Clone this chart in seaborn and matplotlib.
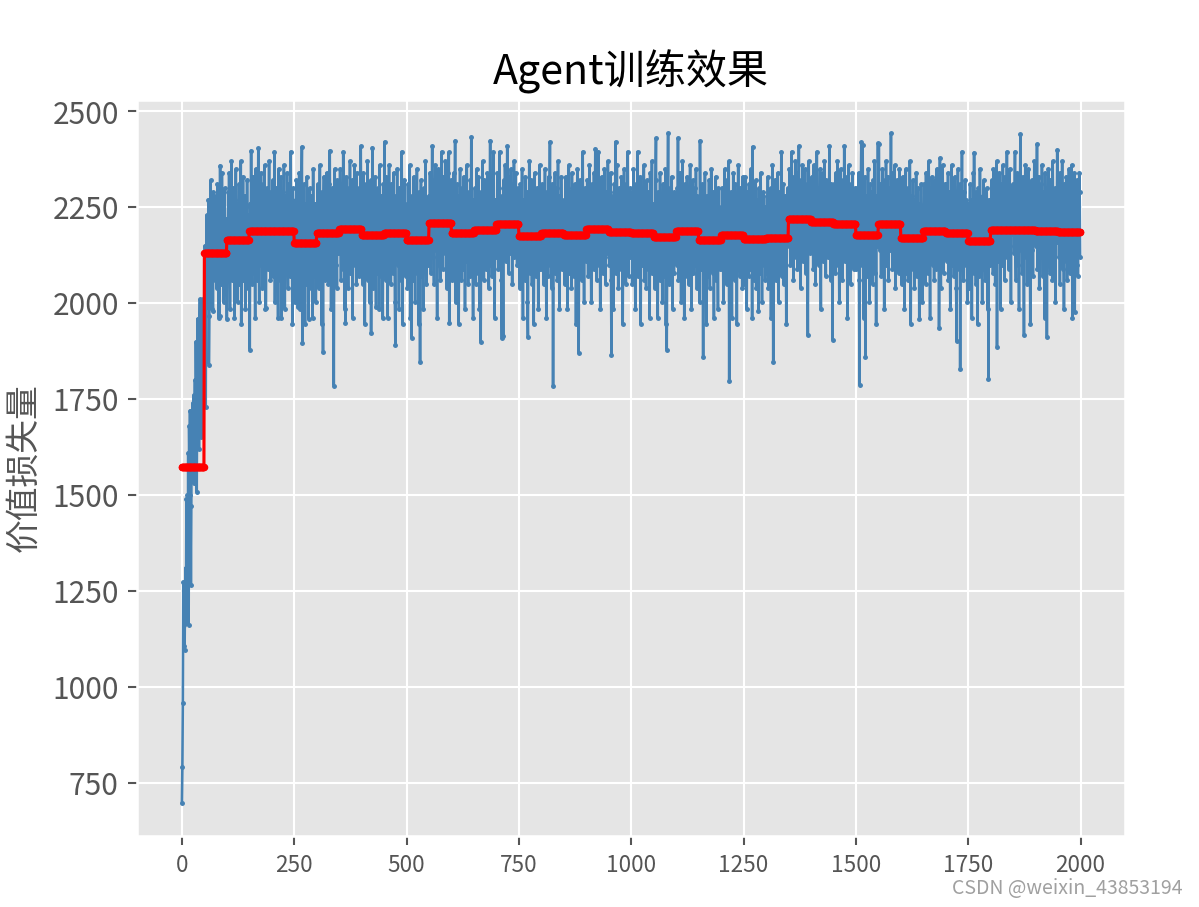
import numpy as np
import pandas as pd
import matplotlib
matplotlib.use("Agg")
import matplotlib.pyplot as plt
import seaborn as sns

block_size = 50

# mean value loss of every 50 episodes (red step line)
block_mean = [1574, 2130, 2166, 2188, 2188, 2156, 2183, 2193, 2178, 2182,
              2164, 2209, 2183, 2190, 2206, 2175, 2184, 2177, 2193, 2186,
              2182, 2173, 2188, 2164, 2178, 2167, 2170, 2219, 2212, 2206,
              2178, 2207, 2170, 2188, 2184, 2163, 2192, 2190, 2188, 2185]

# episodes 0-49
warmup_loss = [
    698, 790, 958, 1272, 1105, 1160, 1095, 1250, 1310, 1165,
    1490, 1380, 1500, 1270, 1610, 1160, 1680, 1560, 1720, 1500,
    1264, 1470, 1720, 1590, 1740, 1650, 1760, 1530, 1690, 1800,
    1620, 1900, 1740, 1508, 1830, 1960, 1700, 1890, 1620, 1940,
    2010, 1760, 1880, 1650, 1980, 1920, 2010, 1800, 1990, 1960,
]

# episodes 50-1999
train_loss = [
    1962, 2150, 2060, 1730, 2110, 2230, 1990, 2180, 2050, 2270, 1840, 1967, 2210, 2090, 2320, 2140, 1985, 2250, 2170, 1980, 2290, 2100, 2210, 2060, 2190,
    2280, 2130, 2040, 2230, 2310, 2080, 2190, 1962, 2260, 1966, 2359, 2120, 2200, 2050, 2340, 2160, 2090, 2250, 2002, 2180, 2300, 2110, 2220, 2070, 2150,
    1958, 2210, 2130, 2290, 2070, 2340, 2180, 1985, 2250, 2110, 2370, 2160, 2060, 2230, 2300, 2090, 2190, 1962, 2270, 2140, 2350, 2080, 2220, 2170, 2002,
    2260, 2120, 2310, 2050, 2200, 2150, 2370, 1945, 2240, 2180, 2100, 2330, 2060, 2210, 2130, 2280, 1985, 2190, 2250, 2090, 2320, 2160, 2040, 2230, 2140,
    2200, 1879, 2260, 2110, 2398, 2170, 2050, 2290, 2140, 2330, 2080, 2220, 2180, 1962, 2350, 2240, 2120, 2280, 2060, 2190, 2404, 2150, 2002, 2270, 2210,
    2100, 2340, 2170, 2250, 2040, 2310, 2130, 2230, 2080, 2360, 2190, 1985, 1987, 2260, 2150, 2300, 2090, 2220, 2180, 2370, 2110, 2240, 2060, 2290, 2160,
    2250, 2120, 2320, 2070, 2210, 2170, 2395, 2002, 2260, 2140, 2300, 2090, 2230, 2180, 1962, 2350, 2110, 2270, 2200, 2060, 2330, 1961, 2240, 2150, 2290,
    2080, 2210, 2360, 2130, 1985, 2280, 2190, 2250, 2100, 2340, 2160, 2040, 2310, 2220, 2120, 2270, 2070, 2395, 2180, 2230, 2140, 1945, 2300, 2200, 2160,
    2090, 2200, 2002, 2270, 2140, 2320, 2060, 2180, 1990, 2250, 2110, 2340, 2150, 1985, 2230, 2080, 2290, 2408, 1897, 2170, 2060, 2310, 2120, 2210, 1945,
    2260, 2140, 2050, 2330, 2190, 2080, 2240, 1960, 2160, 2300, 2100, 2220, 2040, 2280, 2130, 2190, 1962, 2350, 2110, 2230, 2070, 2170, 2260, 2002, 2150,
    2220, 2100, 2310, 2160, 2040, 2270, 2190, 2360, 2080, 2240, 2130, 1945, 2290, 2170, 1874, 2250, 2330, 2110, 2200, 2060, 2280, 2150, 2340, 2090, 2230,
    2180, 2050, 2310, 2120, 2398, 2160, 2260, 1985, 2210, 2300, 2140, 2070, 2250, 1785, 2190, 2350, 2230, 2100, 2280, 2170, 2040, 2320, 2200, 2130, 2260,
    2270, 2130, 2350, 2200, 2060, 2310, 2170, 2240, 2090, 2395, 2150, 2280, 1985, 2230, 1948, 2190, 2330, 2110, 2260, 2180, 2040, 2300, 2210, 2140, 2370,
    2080, 2250, 2160, 2320, 2200, 1962, 2290, 2140, 2230, 2360, 2100, 2270, 2190, 2050, 2340, 2170, 2250, 2120, 2300, 2210, 2070, 2280, 2160, 2410, 2230,
    2150, 2280, 2050, 2210, 2340, 2120, 2260, 1945, 2190, 2310, 2090, 2230, 2170, 2370, 2060, 2250, 2140, 2290, 2002, 2200, 2320, 1923, 2180, 2110, 2406,
    2160, 2040, 2270, 2220, 2100, 2330, 2150, 1990, 2250, 2190, 2080, 2300, 2130, 2240, 1985, 2360, 2170, 2210, 2070, 2280, 2140, 2230, 1962, 2310, 2190,
    2200, 2421, 2130, 2270, 2060, 2330, 2180, 2240, 1962, 2290, 2150, 2360, 2090, 2220, 2170, 2050, 2310, 2120, 2260, 2190, 2080, 2340, 2160, 2230, 2002,
    1892, 2280, 2140, 2210, 2350, 2100, 2250, 2180, 1985, 2300, 2130, 2270, 2060, 2220, 2395, 2150, 1945, 2240, 2190, 2110, 2320, 2170, 2260, 2070, 2210,
    2120, 2250, 2040, 2310, 2170, 2090, 2220, 2360, 1962, 2190, 2140, 1910, 2280, 2100, 2230, 2060, 2330, 2150, 2200, 2002, 2270, 2110, 2180, 2350, 2080,
    2240, 2130, 1945, 2290, 2160, 1848, 2210, 2320, 2070, 2250, 2140, 2190, 1985, 2300, 2120, 2230, 2090, 2370, 2170, 2050, 2260, 2150, 2210, 2100, 2280,
    2260, 2150, 2340, 2200, 2080, 2300, 2230, 2410, 2120, 2270, 2180, 2050, 2320, 2210, 2360, 2140, 2250, 2190, 1962, 2290, 2230, 2350, 2100, 2280, 2170,
    2060, 2310, 2220, 2395, 2160, 2240, 2090, 2330, 2200, 2270, 2130, 2370, 2190, 2250, 2040, 2300, 2210, 2150, 2340, 2394, 1948, 2260, 2180, 2320, 2230,
    2170, 2290, 2060, 2230, 2140, 2340, 2100, 2200, 2424, 2002, 2260, 2180, 2310, 2080, 2220, 2150, 1945, 2280, 2190, 2350, 2120, 2240, 2060, 2300, 2170,
    2210, 2090, 2330, 2140, 2250, 1985, 2280, 2190, 2110, 2360, 2160, 2230, 2050, 2290, 2130, 2200, 2070, 2320, 2180, 2434, 2100, 2250, 2140, 1962, 2270,
    2230, 2120, 2300, 2180, 2050, 2270, 2350, 2140, 2210, 2080, 2330, 2190, 1985, 2260, 2160, 1900, 2290, 2230, 2110, 2370, 2200, 2150, 2060, 2320, 2240,
    2180, 2090, 2280, 2210, 2130, 2340, 2190, 2260, 2040, 2310, 2170, 2424, 2100, 2250, 2220, 2070, 2300, 2160, 2395, 2140, 2230, 1962, 2270, 2190, 2120,
    2260, 2170, 2340, 2210, 2090, 2300, 2250, 2395, 2140, 2230, 2180, 2060, 1910, 2280, 2200, 1915, 2320, 2240, 2150, 2360, 2270, 2110, 2290, 2220, 2410,
    2160, 2250, 2080, 2330, 2210, 2270, 2130, 2350, 2190, 2240, 2050, 2310, 2230, 2170, 2370, 2120, 2280, 2200, 2340, 2150, 2260, 2100, 2300, 2220, 2190,
    2130, 2260, 2040, 2310, 2180, 2090, 2230, 2350, 2150, 1962, 2270, 2120, 2200, 2060, 2330, 2170, 2240, 2100, 2290, 2002, 1912, 2210, 2140, 2370, 2190,
    2080, 2250, 2160, 2320, 2050, 2220, 2130, 2280, 1945, 2190, 2340, 2110, 2240, 2170, 2070, 2300, 2150, 2210, 1985, 2260, 2180, 2360, 2090, 2230, 2140,
    2200, 2090, 2310, 2160, 2240, 2050, 2280, 2180, 2350, 2120, 2230, 1962, 2290, 2140, 2200, 2070, 2330, 2190, 2250, 2421, 2100, 2260, 2170, 2040, 2310,
    2220, 1785, 2150, 2280, 2190, 2340, 2080, 2240, 2130, 2300, 2060, 2210, 2370, 2160, 2250, 1985, 2280, 2180, 2120, 2330, 2200, 2090, 2260, 2150, 2230,
    2140, 2270, 2050, 2210, 2330, 2100, 2250, 2180, 1985, 2300, 2160, 2360, 2080, 2230, 2120, 2290, 2190, 2040, 2340, 2170, 2260, 2110, 2200, 2070, 2310,
    2150, 2240, 1945, 2280, 2190, 2350, 2130, 2220, 1870, 2270, 2160, 2090, 2320, 2200, 2250, 2060, 2180, 2395, 2140, 2230, 2002, 2300, 2170, 2210, 2110,
    2250, 2130, 2320, 2200, 2070, 2290, 2180, 2360, 2110, 2240, 2160, 2002, 2310, 2220, 2140, 2270, 2090, 2340, 2190, 2250, 2403, 2120, 2200, 2060, 2300,
    2230, 2170, 2395, 2100, 2260, 2150, 1985, 2280, 2210, 2330, 2140, 2240, 2080, 2310, 2190, 2350, 2120, 2220, 2050, 2290, 2170, 2260, 2130, 2370, 2200,
    2210, 2100, 2290, 2170, 2340, 2060, 1864, 2230, 2150, 2280, 1985, 2190, 2310, 2130, 2250, 2421, 2080, 2200, 2360, 2160, 2240, 2040, 2300, 2180, 2120,
    2270, 2210, 2090, 2330, 2150, 2260, 1945, 2220, 2190, 2350, 2110, 2280, 2170, 2050, 2310, 2230, 2140, 2395, 2200, 2070, 2250, 2160, 2300, 2120, 2240,
    2180, 2290, 2050, 2230, 2140, 2350, 2090, 2260, 2200, 1985, 2310, 2160, 2240, 2110, 2395, 2170, 2070, 2280, 2210, 2130, 2330, 1945, 2250, 2190, 2300,
    2100, 2220, 2150, 2360, 2060, 2270, 2180, 2230, 2040, 2320, 2140, 2200, 2090, 2290, 2170, 2250, 1962, 2340, 2120, 2210, 2160, 2370, 2080, 2240, 2190,
    2150, 2260, 2040, 2210, 2320, 2430, 2090, 2180, 2250, 1962, 2290, 2130, 2200, 2060, 2340, 2170, 2230, 2100, 2280, 2002, 2190, 2310, 2120, 2240, 2070,
    2160, 2350, 1945, 2220, 1879, 2140, 2270, 2443, 2090, 2200, 2050, 2300, 2180, 2240, 2110, 2330, 2150, 1985, 2260, 2190, 2080, 2290, 2160, 2210, 2120,
    2230, 2100, 2300, 2170, 2431, 2060, 2250, 2190, 2340, 2120, 2210, 2002, 2280, 2160, 2370, 2090, 2240, 2180, 1962, 2310, 2220, 2140, 2260, 2070, 2330,
    2190, 2110, 2290, 2050, 2240, 2200, 2360, 2130, 2270, 1985, 2230, 2170, 2320, 2080, 2250, 2150, 2300, 2210, 2100, 2350, 2180, 2040, 2280, 2160, 2220,
    2120, 2250, 2002, 2424, 2180, 2090, 2270, 2140, 2310, 2200, 1861, 2230, 2060, 2160, 2340, 2100, 2210, 1945, 2280, 2150, 2240, 2070, 2190, 2320, 2130,
    2040, 2260, 2170, 2350, 2110, 2220, 2080, 2290, 2150, 1962, 2250, 2190, 2120, 2330, 2060, 2200, 2270, 2140, 1985, 2300, 2180, 2230, 2090, 2160, 2250,
    2210, 2090, 2300, 2160, 2240, 2002, 2280, 2140, 2350, 2100, 2190, 2260, 2050, 2320, 2170, 2230, 2120, 2370, 1798, 2250, 2080, 2200, 2290, 2150, 1962,
    2270, 2180, 2340, 2110, 2220, 2060, 2310, 2190, 2130, 2250, 1945, 2280, 2160, 2360, 2100, 2230, 2170, 2070, 2300, 2200, 2140, 2260, 2040, 2330, 2190,
    2130, 2260, 2050, 2210, 2330, 2100, 2180, 1985, 2290, 2150, 2240, 2070, 2310, 2170, 2200, 2090, 2350, 2130, 2250, 1962, 2408, 2160, 2230, 2060, 2280,
    2140, 2190, 2320, 2040, 2220, 2110, 2270, 2180, 1980, 2300, 2150, 2240, 2080, 2340, 2120, 2210, 2002, 2260, 2170, 2290, 2100, 2190, 2250, 2060, 2200,
    2190, 2080, 2280, 2150, 2330, 2040, 2220, 2170, 2260, 2110, 2300, 1962, 2240, 2130, 2360, 2180, 1847, 2250, 2090, 2210, 2320, 2140, 2060, 2270, 2200,
    2120, 2340, 2170, 2002, 2290, 2230, 2100, 2250, 2160, 2395, 2070, 2200, 2140, 2310, 2050, 2260, 2190, 2110, 2280, 2220, 1945, 2240, 2150, 2300, 2180,
    2270, 2160, 2350, 2220, 2100, 2310, 2240, 2395, 2140, 2290, 2200, 2060, 2330, 2250, 2180, 2370, 2120, 2280, 2230, 2340, 2090, 2260, 2200, 2410, 2150,
    2300, 2210, 2040, 2320, 2270, 2170, 2360, 2230, 2110, 2290, 2250, 2190, 2350, 2080, 2280, 2220, 2310, 2160, 1916, 2260, 2370, 2200, 2130, 2300, 2240,
    2250, 2140, 2330, 2200, 2280, 2090, 2360, 2220, 2170, 2310, 2050, 2260, 2190, 2395, 2130, 2240, 2300, 2100, 2270, 2210, 2350, 2160, 1985, 2290, 2230,
    2180, 2340, 2110, 2250, 2200, 2370, 2150, 2280, 2070, 2320, 2240, 2190, 2300, 2120, 2260, 2210, 2410, 2170, 2230, 2060, 2310, 2270, 2140, 1905, 2250,
    2230, 2310, 2140, 2260, 2080, 2340, 2200, 2280, 2150, 2370, 2100, 2240, 2190, 2002, 2300, 2220, 2350, 2130, 2270, 2180, 2060, 2320, 2250, 2160, 2410,
    2200, 2110, 2290, 2240, 2170, 2330, 1962, 2260, 2210, 2360, 2120, 2280, 2190, 2050, 2310, 2230, 2150, 2340, 2200, 2270, 2090, 2250, 2180, 2300, 2220,
    2200, 2090, 2300, 2160, 2250, 2130, 2340, 2060, 1788, 2220, 2180, 2290, 2420, 2100, 2230, 2412, 2150, 1962, 2270, 2190, 2330, 1860, 2240, 2120, 2280,
    2070, 2200, 2350, 2140, 2260, 2002, 2310, 2180, 2220, 2100, 2290, 2160, 2050, 2320, 2210, 2130, 2370, 2080, 2250, 2190, 1945, 2280, 2150, 2240, 2417,
    2180, 2415, 2260, 2140, 2310, 2200, 2070, 2290, 2230, 2350, 2120, 2270, 2190, 1985, 2320, 2240, 2160, 2370, 2100, 2280, 2210, 2330, 2060, 2250, 2180,
    2300, 2140, 2230, 2443, 2170, 2260, 2090, 2340, 2200, 2280, 2120, 2360, 2210, 2040, 2300, 2250, 2150, 2320, 2190, 2270, 2080, 2240, 2350, 2170, 2220,
    2140, 2270, 2050, 2210, 2330, 2100, 2250, 2170, 1985, 2290, 2130, 2350, 2080, 2230, 2160, 2300, 2060, 2190, 2260, 2110, 2370, 2150, 1945, 2240, 2180,
    2280, 2090, 2320, 2140, 2220, 2040, 2270, 2190, 2120, 2340, 2170, 2230, 2070, 2300, 2150, 2210, 1960, 2260, 2180, 2100, 2310, 2140, 2250, 2002, 2200,
    2230, 2120, 2310, 2170, 2260, 2050, 2340, 2200, 2140, 2290, 2080, 2220, 2370, 2160, 2250, 1962, 2300, 2190, 2130, 2330, 2240, 2100, 2280, 2180, 2060,
    2320, 2210, 2150, 2270, 2090, 2350, 2200, 2240, 2120, 2300, 1935, 2260, 2379, 2170, 2040, 2290, 2230, 2140, 2360, 2190, 2080, 2250, 2210, 2160, 2310,
    2200, 2310, 2110, 2250, 2170, 2340, 2060, 2230, 2290, 2140, 1985, 2270, 2190, 2360, 2100, 2240, 2180, 2300, 2070, 2220, 2330, 2150, 2260, 2040, 1901,
    2280, 2200, 2350, 2130, 2240, 2090, 2310, 1829, 2270, 2180, 2210, 2395, 2120, 2250, 2060, 2290, 2230, 2160, 2320, 2100, 2200, 2270, 2140, 2002, 2260,
    2130, 2250, 2040, 2200, 2310, 2090, 2170, 2270, 1962, 2230, 2150, 2340, 2080, 2393, 2190, 2120, 2260, 2050, 2290, 2160, 2220, 1945, 2300, 2140, 2240,
    2070, 2350, 2180, 2110, 2260, 2200, 2002, 2280, 2150, 2320, 2090, 2210, 2170, 2060, 2250, 2130, 2300, 2190, 1985, 2240, 1802, 2270, 2160, 2210, 2100,
    2240, 2130, 2320, 2190, 2270, 2080, 2350, 2210, 2150, 2300, 2050, 2260, 2180, 2370, 1887, 2230, 2110, 2290, 2200, 2340, 2160, 2250, 1985, 2310, 2190,
    2270, 2100, 2360, 2220, 2140, 2280, 2060, 2330, 2200, 2250, 2170, 2395, 2120, 2240, 2300, 2090, 2210, 2350, 2150, 2260, 2002, 2290, 2230, 2180, 2310,
    2200, 2290, 2130, 2250, 2395, 2160, 2060, 2310, 2220, 2340, 2100, 2270, 2180, 1985, 2300, 2230, 2440, 2140, 2260, 2190, 2080, 2330, 2210, 2150, 1918,
    2280, 2240, 2360, 2120, 2200, 2310, 2050, 2250, 2170, 2350, 2110, 2290, 2220, 1945, 2270, 2180, 2320, 2140, 2240, 2070, 2300, 2200, 2370, 2160, 2230,
    2150, 2280, 2220, 2415, 2090, 2250, 2180, 2330, 2040, 2270, 2200, 2120, 2310, 2160, 2360, 2230, 2070, 2290, 2190, 2250, 1962, 2340, 2140, 2210, 2300,
    1913, 2260, 2170, 2350, 2110, 2240, 2190, 2080, 2320, 2220, 2150, 2280, 2060, 2370, 2200, 2250, 2130, 2300, 2180, 2002, 2270, 2210, 2160, 2400, 2230,
    2190, 2300, 2120, 2260, 2050, 2340, 2180, 2230, 2140, 2370, 2090, 2280, 2200, 1985, 2310, 2160, 2250, 2110, 2330, 2190, 2060, 2270, 2220, 2150, 2350,
    2200, 2080, 2290, 2240, 2130, 2360, 2170, 1962, 2300, 2230, 2190, 2340, 1977, 2260, 2150, 2280, 2100, 2320, 2210, 2070, 2250, 2180, 2340, 2290, 2120,
]

loss = warmup_loss + train_loss

df = pd.DataFrame({"episode": np.arange(len(loss)), "loss": loss})
df_mean = pd.DataFrame({
    "episode": np.arange(len(block_mean) * block_size),
    "mean": np.repeat(block_mean, block_size),
})

plt.style.use("ggplot")
plt.rcParams["font.family"] = ["Noto Sans CJK SC", "DejaVu Sans"]
plt.rcParams["axes.unicode_minus"] = False

W, H = 1199, 907
fig = plt.figure(figsize=(6.4, 4.842), dpi=187.35)
ax = fig.add_axes([137 / W, 1 - 836 / H, (1125 - 137) / W, (836 - 100) / H])

sns.lineplot(data=df, x="episode", y="loss", ax=ax, color="steelblue",
             linewidth=1.0, marker="o", markersize=1.9,
             markeredgewidth=0, markeredgecolor="steelblue")
sns.lineplot(data=df_mean, x="episode", y="mean", ax=ax, color="red",
             linewidth=1.2, marker="o", markersize=2.9,
             markeredgewidth=0, markeredgecolor="red")

ax.set_title("Agent训练效果", fontsize=15.8)
ax.set_xlabel("")
ax.set_ylabel("价值损失量", fontsize=13)
ax.tick_params(axis="x", labelsize=8.7)
ax.tick_params(axis="y", labelsize=11.5)

fig.text(1183 / W, 1 - 888 / H, "CSDN @weixin_43853194", ha="right",
         va="center", fontsize=7.5, color="#a0a0a0")

fig.savefig("out.png", dpi=187.35)
